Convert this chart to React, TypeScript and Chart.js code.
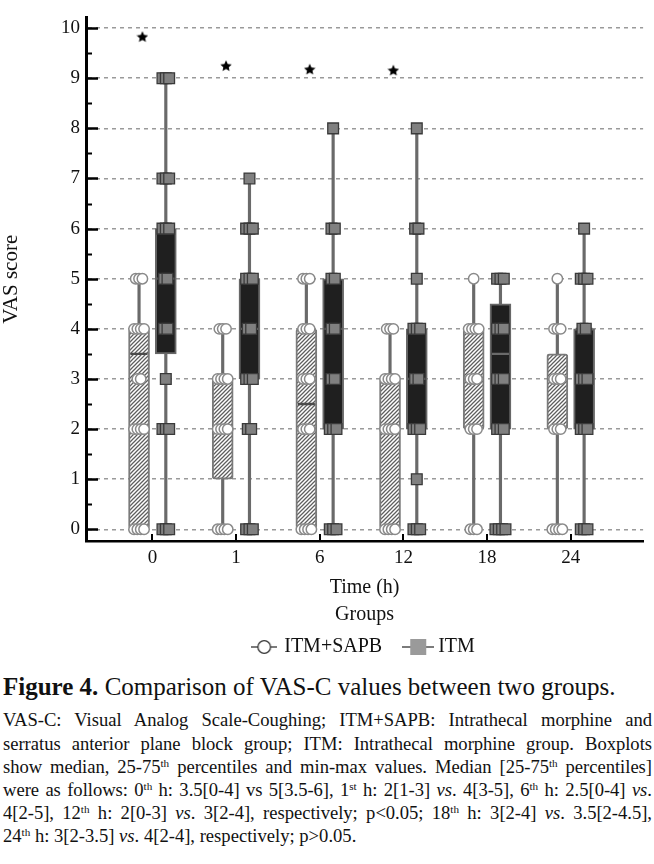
import React, { useEffect, useLayoutEffect, useRef } from 'react';
import { Chart, registerables } from 'chart.js';

Chart.register(...registerables);

// ---------- data ----------
const timeLabels = ['0', '1', '6', '12', '18', '24'];
const yTickValues = [0, 1, 2, 3, 4, 5, 6, 7, 8, 9, 10];

// ITM+SAPB group (box = 25-75th percentiles, whiskers = min-max)
const sapbQ1 = [0, 1, 0, 0, 2, 2];
const sapbQ3 = [4, 3, 4, 3, 4, 3.5];
const sapbMedian = [3.5, 2, 2.5, 2, 3, 3];
const sapbMin = [0, 0, 0, 0, 0, 0];
const sapbMax = [5, 4, 5, 4, 5, 5];
const sapbObs0 = [0, 0, 0, 0, 2, 2, 2, 2, 3, 3, 4, 4, 4, 4, 5, 5, 5];
const sapbObs1 = [0, 0, 0, 0, 2, 2, 2, 2, 3, 3, 3, 3, 4, 4, 4];
const sapbObs6 = [0, 0, 0, 0, 2, 2, 2, 3, 3, 3, 4, 4, 4, 5, 5, 5];
const sapbObs12 = [0, 0, 0, 0, 2, 2, 2, 2, 3, 3, 3, 3, 4, 4, 4];
const sapbObs18 = [0, 0, 0, 2, 2, 2, 3, 3, 3, 4, 4, 4, 4, 5];
const sapbObs24 = [0, 0, 0, 0, 2, 2, 2, 3, 3, 3, 4, 4, 4, 5];

// ITM group
const itmQ1 = [3.5, 3, 2, 2, 2, 2];
const itmQ3 = [6, 5, 5, 4, 4.5, 4];
const itmMedian = [5, 4, 4, 3, 3.5, 4];
const itmMin = [0, 0, 0, 0, 0, 0];
const itmMax = [9, 7, 8, 8, 5, 6];
const itmObs0 = [0, 0, 0, 2, 2, 2, 3, 4, 4, 5, 5, 6, 6, 6, 7, 7, 7, 9, 9, 9];
const itmObs1 = [0, 0, 0, 2, 2, 3, 3, 3, 4, 4, 5, 5, 5, 6, 6, 6, 7];
const itmObs6 = [0, 0, 0, 2, 2, 2, 3, 3, 4, 4, 5, 5, 6, 6, 8];
const itmObs12 = [0, 0, 0, 1, 2, 2, 2, 3, 3, 4, 4, 4, 5, 6, 6, 8];
const itmObs18 = [0, 0, 0, 0, 2, 2, 2, 3, 3, 3, 4, 4, 4, 5, 5, 5];
const itmObs24 = [0, 0, 0, 2, 2, 2, 3, 3, 3, 4, 4, 5, 5, 5, 6];

// significance markers (p<0.05) above the first four time points
const starTimeIndex = [0, 1, 2, 3];
const starValues = [9.83, 9.25, 9.18, 9.16];

const sapbObs = [sapbObs0, sapbObs1, sapbObs6, sapbObs12, sapbObs18, sapbObs24];
const itmObs = [itmObs0, itmObs1, itmObs6, itmObs12, itmObs18, itmObs24];

// ---------- style ----------
const FONT = "'Liberation Serif', 'Times New Roman', Times, serif";
const W = 654;
const H = 667;
const CAP_W = 649;
const X_MIN = -0.794;
const X_MAX = 5.865;
const Y_MIN = -0.233;
const Y_MAX = 10.214;
const SAPB_SHIFT = -0.16;
const ITM_SHIFT = 0.16;
const STAR_SHIFT = -0.12;
const JITTER = 0.04;

function jitterPoints(obs: number[][], shift: number) {
  const pts: { x: number; y: number }[] = [];
  obs.forEach((vals, i) => {
    const counts = new Map<number, number>();
    vals.forEach((v) => counts.set(v, (counts.get(v) || 0) + 1));
    counts.forEach((n, v) => {
      for (let k = 0; k < n; k++) {
        pts.push({ x: i + shift + (k - (n - 1) / 2) * JITTER, y: v });
      }
    });
  });
  return pts;
}

function makeCanvas(w: number, h: number) {
  const c = document.createElement('canvas');
  c.width = w;
  c.height = h;
  return c;
}

function makeStar(size: number) {
  const c = makeCanvas(size, size);
  const g = c.getContext('2d')!;
  const cx = size / 2;
  const cy = size / 2 + 0.5;
  const ro = size / 2;
  const ri = size / 4.2;
  g.beginPath();
  for (let k = 0; k < 10; k++) {
    const r = k % 2 === 0 ? ro : ri;
    const a = -Math.PI / 2 + (k * Math.PI) / 5;
    const px = cx + r * Math.cos(a);
    const py = cy + r * Math.sin(a);
    if (k === 0) g.moveTo(px, py);
    else g.lineTo(px, py);
  }
  g.closePath();
  g.fillStyle = '#000';
  g.fill();
  return c;
}

function makeLegendCircle() {
  const c = makeCanvas(26, 20);
  const g = c.getContext('2d')!;
  g.strokeStyle = '#333';
  g.lineWidth = 1.3;
  g.beginPath();
  g.moveTo(0, 10);
  g.lineTo(26, 10);
  g.stroke();
  g.beginPath();
  g.arc(13, 10, 6.3, 0, Math.PI * 2);
  g.fillStyle = '#fff';
  g.fill();
  g.stroke();
  return c;
}

function makeLegendSquare() {
  const c = makeCanvas(32, 20);
  const g = c.getContext('2d')!;
  g.strokeStyle = '#333';
  g.lineWidth = 1.3;
  g.beginPath();
  g.moveTo(0, 10);
  g.lineTo(32, 10);
  g.stroke();
  g.fillStyle = '#9a9a9a';
  g.fillRect(8, 2, 16, 16);
  return c;
}

const inwardTicks = {
  id: 'inwardTicks',
  afterDraw(chart: any) {
    const { ctx, chartArea: a, scales } = chart;
    const xs = scales.x;
    const ys = scales.y;
    ctx.save();
    ctx.strokeStyle = '#000';
    ctx.lineWidth = 2.5;
    ctx.beginPath();
    yTickValues.forEach((v) => {
      const py = Math.round(ys.getPixelForValue(v)) + 0.5;
      ctx.moveTo(a.left, py);
      ctx.lineTo(a.left + 12, py);
    });
    ctx.stroke();
    ctx.lineWidth = 2;
    ctx.beginPath();
    for (let i = 0; i < yTickValues.length - 1; i++) {
      const v = (yTickValues[i] + yTickValues[i + 1]) / 2;
      const py = Math.round(ys.getPixelForValue(v)) + 0.5;
      ctx.moveTo(a.left, py);
      ctx.lineTo(a.left + 6, py);
    }
    ctx.stroke();
    ctx.lineWidth = 2;
    ctx.beginPath();
    timeLabels.forEach((_, i) => {
      const px = Math.round(xs.getPixelForValue(i));
      ctx.moveTo(px, a.bottom);
      ctx.lineTo(px, a.bottom - 7);
    });
    ctx.stroke();
    ctx.restore();
  },
};

const centerLegend = {
  id: 'centerLegend',
  afterLayout(chart: any) {
    const l = chart.legend;
    if (l) {
      l.left = chart.chartArea.left;
      l.right = chart.chartArea.right;
    }
  },
};

function ChartView() {
  const ref = useRef<HTMLCanvasElement | null>(null);
  useEffect(() => {
    const canvas = ref.current!;
    const ctx = canvas.getContext('2d')!;
    const tile = makeCanvas(4, 4);
    const tg = tile.getContext('2d')!;
    tg.fillStyle = '#ffffff';
    tg.fillRect(0, 0, 4, 4);
    tg.strokeStyle = '#5e5e5e';
    tg.lineWidth = 1.25;
    tg.beginPath();
    tg.moveTo(0, 4);
    tg.lineTo(4, 0);
    tg.moveTo(-1, 1);
    tg.lineTo(1, -1);
    tg.moveTo(3, 5);
    tg.lineTo(5, 3);
    tg.stroke();
    const hatch = ctx.createPattern(tile, 'repeat');

    const star = makeStar(12);
    const legCircle = makeLegendCircle();
    const legSquare = makeLegendSquare();

    Chart.defaults.font.family = FONT;

    const boxData = (q1: number[], q3: number[], shift: number) =>
      q1.map((v, i) => ({ x: i + shift, y: [v, q3[i]] }));
    const medData = (m: number[], shift: number) => m.map((v, i) => ({ x: i + shift, y: v }));

    const chart = new Chart(canvas, {
      type: 'scatter',
      data: {
        datasets: [
          {
            type: 'scatter',
            label: 'p<0.05',
            data: starTimeIndex.map((t, k) => ({ x: t + STAR_SHIFT, y: starValues[k] })),
            pointStyle: star as any,
            pointRadius: 6,
          },
          {
            type: 'scatter',
            label: 'ITM+SAPB points',
            data: jitterPoints(sapbObs, SAPB_SHIFT),
            pointStyle: 'circle',
            pointRadius: 5.2,
            pointBackgroundColor: '#ffffff',
            pointBorderColor: '#8a8a8a',
            pointBorderWidth: 1.5,
          },
          {
            type: 'scatter',
            label: 'ITM points',
            data: jitterPoints(itmObs, ITM_SHIFT),
            pointStyle: 'rect',
            pointRadius: 7.6,
            pointBackgroundColor: '#808080',
            pointBorderColor: '#3a3a3a',
            pointBorderWidth: 1.3,
          },
          {
            type: 'scatter',
            label: 'ITM+SAPB median',
            data: medData(sapbMedian, SAPB_SHIFT),
            pointStyle: 'line',
            pointRadius: 8.5,
            pointBorderColor: '#4a4a4a',
            pointBorderWidth: 2.4,
          },
          {
            type: 'scatter',
            label: 'ITM median',
            data: medData(itmMedian, ITM_SHIFT),
            pointStyle: 'line',
            pointRadius: 8.5,
            pointBorderColor: '#6a6a6a',
            pointBorderWidth: 2.2,
          },
          {
            type: 'bar',
            label: 'ITM+SAPB box',
            data: boxData(sapbQ1, sapbQ3, SAPB_SHIFT) as any,
            backgroundColor: hatch as any,
            borderColor: '#7a7a7a',
            borderWidth: 2,
            borderSkipped: false,
            borderRadius: 3,
            barThickness: 21,
            grouped: false,
          },
          {
            type: 'bar',
            label: 'ITM box',
            data: boxData(itmQ1, itmQ3, ITM_SHIFT) as any,
            backgroundColor: '#1f1f1f',
            borderColor: '#676767',
            borderWidth: 2,
            borderSkipped: false,
            barThickness: 21,
            grouped: false,
          },
          {
            type: 'bar',
            label: 'ITM+SAPB range',
            data: boxData(sapbMin, sapbMax, SAPB_SHIFT) as any,
            backgroundColor: '#6a6a6a',
            borderWidth: 0,
            barThickness: 2.5,
            grouped: false,
          },
          {
            type: 'bar',
            label: 'ITM range',
            data: boxData(itmMin, itmMax, ITM_SHIFT) as any,
            backgroundColor: '#6a6a6a',
            borderWidth: 0,
            barThickness: 2.5,
            grouped: false,
          },
        ] as any,
      },
      options: {
        responsive: false,
        animation: false,
        events: [],
        layout: { padding: { left: 0, right: 6, top: 3, bottom: 0 } },
        plugins: {
          tooltip: { enabled: false },
          legend: {
            position: 'bottom',
            labels: {
              usePointStyle: true,
              pointStyleWidth: 20,
              padding: 26,
              color: '#111',
              font: { family: FONT, size: 20 },
              generateLabels: () => [
                {
                  text: 'ITM+SAPB',
                  pointStyle: legCircle as any,
                  fillStyle: 'rgba(0,0,0,0)',
                  strokeStyle: 'rgba(0,0,0,0)',
                  lineWidth: 0,
                  hidden: false,
                  datasetIndex: 1,
                  fontColor: '#111',
                },
                {
                  text: 'ITM',
                  pointStyle: legSquare as any,
                  fillStyle: 'rgba(0,0,0,0)',
                  strokeStyle: 'rgba(0,0,0,0)',
                  lineWidth: 0,
                  hidden: false,
                  datasetIndex: 2,
                  fontColor: '#111',
                },
              ],
            },
            title: {
              display: true,
              text: 'Groups',
              color: '#111',
              font: { family: FONT, size: 20 },
              padding: { top: 5, bottom: -18 } as any,
            },
          },
        },
        scales: {
          x: {
            type: 'linear',
            min: X_MIN,
            max: X_MAX,
            offset: false,
            afterFit: (s: any) => {
              s.height = 59;
            },
            afterBuildTicks: (s: any) => {
              s.ticks = timeLabels.map((_, i) => ({ value: i }));
            },
            ticks: {
              callback: (v: any) => timeLabels[Math.round(Number(v))],
              padding: 6,
              color: '#111',
              font: { family: FONT, size: 19 },
              maxRotation: 0,
              autoSkip: false,
            },
            grid: { display: false, drawTicks: false },
            border: { display: true, color: '#000', width: 2.5 },
            title: {
              display: true,
              text: 'Time (h)',
              color: '#111',
              font: { family: FONT, size: 20 },
              padding: { top: 0, bottom: 0 },
            },
          },
          y: {
            type: 'linear',
            min: Y_MIN,
            max: Y_MAX,
            afterFit: (s: any) => {
              s.width = 86;
            },
            afterBuildTicks: (s: any) => {
              s.ticks = yTickValues.map((v) => ({ value: v }));
            },
            ticks: {
              padding: 6,
              color: '#111',
              font: { family: FONT, size: 19 },
              autoSkip: false,
            },
            grid: { color: '#9a9a9a', lineWidth: 1.5, drawTicks: false },
            border: { display: true, color: '#000', width: 3, dash: [4, 4] },
            title: {
              display: true,
              text: 'VAS score',
              color: '#111',
              font: { family: FONT, size: 21, lineHeight: 1.1 },
              padding: { top: 0, bottom: 0 },
            },
          },
        },
      } as any,
      plugins: [inwardTicks, centerLegend],
    });
    return () => chart.destroy();
  }, []);
  return <canvas ref={ref} width={W} height={H} style={{ display: 'block', width: W, height: H }} />;
}

const sup = (t: string) => (
  <sup style={{ fontSize: '0.6em', verticalAlign: 'baseline', position: 'relative', top: '-0.55em', lineHeight: 0 }}>
    {t}
  </sup>
);
const vs = <i>vs</i>;

// one justified caption line; shrinks its letter spacing if it would not fit on one line
function JLine({ children, last }: { children: React.ReactNode; last?: boolean }) {
  const outer = useRef<HTMLDivElement | null>(null);
  const inner = useRef<HTMLSpanElement | null>(null);
  useLayoutEffect(() => {
    const o = outer.current!;
    const s = inner.current!;
    o.style.whiteSpace = 'nowrap';
    const w = s.getBoundingClientRect().width;
    const chars = (s.textContent || '').length;
    if (w > CAP_W - 1) {
      o.style.letterSpacing = `${-((w - CAP_W + 2) / chars)}px`;
    }
    o.style.whiteSpace = 'normal';
  }, []);
  return (
    <div
      ref={outer}
      style={{
        textAlign: last ? 'left' : 'justify',
        textAlignLast: (last ? 'left' : 'justify') as any,
        height: 23.2,
      }}
    >
      <span ref={inner}>{children}</span>
    </div>
  );
}

export default function App() {
  return (
    <div style={{ position: 'absolute', left: 0, top: 0, width: W, background: '#fff' }}>
      <ChartView />
      <div style={{ position: 'absolute', left: 3, top: H, width: CAP_W, fontFamily: FONT, color: '#111' }}>
        <div style={{ fontSize: 25, lineHeight: '30px', marginTop: 5, whiteSpace: 'nowrap' }}>
          <b>Figure 4.</b> Comparison of VAS-C values between two groups.
        </div>
        <div style={{ fontSize: 18.6, lineHeight: '23.2px', marginTop: 6.4 }}>
          <JLine>VAS-C: Visual Analog Scale-Coughing; ITM+SAPB: Intrathecal morphine and</JLine>
          <JLine>serratus anterior plane block group; ITM: Intrathecal morphine group. Boxplots</JLine>
          <JLine>
            show median, 25-75{sup('th')} percentiles and min-max values. Median [25-75{sup('th')} percentiles]
          </JLine>
          <JLine>
            were as follows: 0{sup('th')} h: 3.5[0-4] vs 5[3.5-6], 1{sup('st')} h: 2[1-3] {vs}. 4[3-5], 6{sup('th')} h: 2.5[0-4] {vs}.
          </JLine>
          <JLine>
            4[2-5], 12{sup('th')} h: 2[0-3] {vs}. 3[2-4], respectively; {'p<0.05'}; 18{sup('th')} h: 3[2-4] {vs}. 3.5[2-4.5],
          </JLine>
          <JLine last>
            24{sup('th')} h: 3[2-3.5] {vs}. 4[2-4], respectively; {'p>0.05'}.
          </JLine>
        </div>
      </div>
    </div>
  );
}
